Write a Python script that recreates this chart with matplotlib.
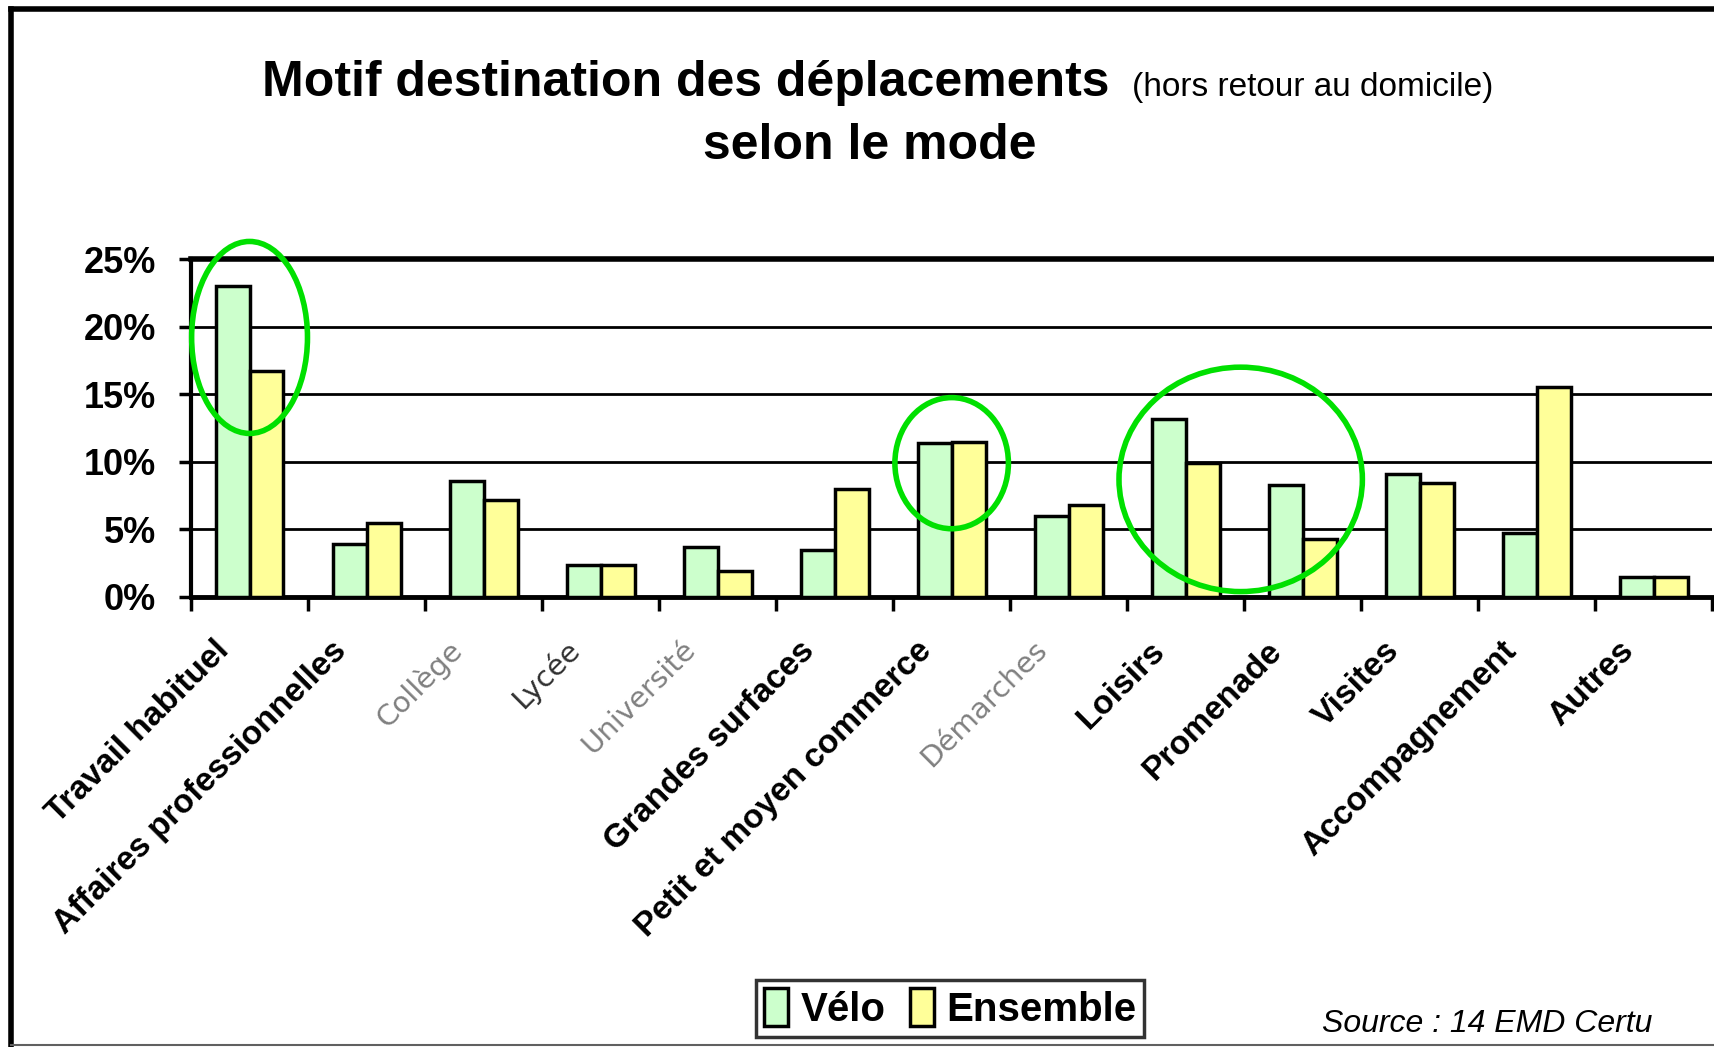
import matplotlib
matplotlib.use('Agg')
import matplotlib.pyplot as plt
from matplotlib.patches import Ellipse, Patch
from matplotlib.lines import Line2D
from matplotlib.transforms import offset_copy
import numpy as np

# donnees (en %)
categories = ['Travail habituel', 'Affaires professionnelles', 'Collège', 'Lycée',
              'Université', 'Grandes surfaces', 'Petit et moyen commerce', 'Démarches',
              'Loisirs', 'Promenade', 'Visites', 'Accompagnement', 'Autres']
velo = [23.0, 3.9, 8.6, 2.4, 3.7, 3.5, 11.4, 6.0, 13.2, 8.3, 9.1, 4.7, 1.5]
ensemble = [16.7, 5.5, 7.2, 2.4, 1.9, 8.0, 11.5, 6.8, 9.9, 4.3, 8.4, 15.5, 1.5]
yticks = [0, 5, 10, 15, 20, 25]
ytick_labels = ['0%', '5%', '10%', '15%', '20%', '25%']
grey_labels = ['Collège', 'Université', 'Démarches']
thin_labels = ['Lycée']

FONT = ['Liberation Sans', 'DejaVu Sans']

fig = plt.figure(figsize=(17.15, 10.47), dpi=100)
ax = fig.add_axes([0.1114, 0.4298, 0.887, 0.3228])

x = np.arange(len(categories))
w = 0.29
ax.bar(x - w / 2, velo, w, color='#CCFFCC', edgecolor='black', linewidth=2.5, zorder=3)
ax.bar(x + w / 2, ensemble, w, color='#FFFF99', edgecolor='black', linewidth=2.5, zorder=3)

ax.set_xlim(-0.5, len(categories) - 0.5)
ax.set_ylim(0, 25)
ax.set_yticks(yticks)
ax.set_yticklabels(ytick_labels, family=FONT, fontweight='bold', fontsize=26)
ax.yaxis.grid(True, color='black', linewidth=2)
ax.set_axisbelow(True)
ax.tick_params(axis='y', direction='out', length=9, width=2.5, pad=16)
ax.set_xticks(np.arange(len(categories) + 1) - 0.5)
ax.set_xticklabels([])
ax.tick_params(axis='x', direction='out', length=10, width=2.5)
ax.spines['right'].set_visible(False)
ax.spines['left'].set_linewidth(3)
ax.spines['bottom'].set_linewidth(3.5)
ax.spines['top'].set_linewidth(4)

# etiquettes inclinees
tr = offset_copy(ax.transData, fig=fig, x=-36, y=-38, units='dots')
for i, lab in enumerate(categories):
    if lab in grey_labels:
        ax.text(i, 0, lab, transform=tr, rotation=45, ha='right', va='top',
                rotation_mode='anchor', family='DejaVu Sans', fontsize=21, color='#808080')
    elif lab in thin_labels:
        ax.text(i, 0, lab, transform=tr, rotation=45, ha='right', va='top',
                rotation_mode='anchor', family='DejaVu Sans', fontsize=21, color='#303030')
    else:
        ax.text(i, 0, lab, transform=tr, rotation=45, ha='right', va='top',
                rotation_mode='anchor', family=FONT, fontweight='bold', fontsize=24)

# cercles verts
for cx, cy, ew, eh in [(0, 19.2, 0.99, 14.2), (6, 9.9, 0.97, 9.7), (8.47, 8.7, 2.08, 16.6)]:
    ax.add_patch(Ellipse((cx, cy), ew, eh, fill=False, edgecolor='#00E000',
                         linewidth=4, zorder=5, clip_on=False))

# titre
fig.text(0.647, 0.908, 'Motif destination des déplacements', ha='right', va='baseline',
         family=FONT, fontweight='bold', fontsize=36)
fig.text(0.660, 0.908, '(hors retour au domicile)', ha='left', va='baseline',
         family=FONT, fontsize=24)
fig.text(0.507, 0.848, 'selon le mode', ha='center', va='baseline',
         family=FONT, fontweight='bold', fontsize=36)

handles = [Patch(facecolor='#CCFFCC', edgecolor='black', linewidth=2.5, label='Vélo'),
           Patch(facecolor='#FFFF99', edgecolor='black', linewidth=2.5, label='Ensemble')]
leg = fig.legend(handles=handles, loc='center', bbox_to_anchor=(0.554, 0.037), ncol=2,
                 frameon=True, fancybox=False, handlelength=0.6, handleheight=1.1,
                 columnspacing=0.6, handletextpad=0.3, borderpad=0.2, borderaxespad=0,
                 prop={'family': FONT, 'weight': 'bold', 'size': 29})
leg.get_frame().set_edgecolor('black')
leg.get_frame().set_linewidth(2.5)

fig.text(0.771, 0.014, 'Source : 14 EMD Certu', ha='left', va='baseline',
         family=FONT, style='italic', fontsize=23)

# cadre
fig.add_artist(Line2D([0.0064, 0.0064], [0.0, 0.9914], color='black', linewidth=4))
fig.add_artist(Line2D([0.0064, 1.0], [0.9914, 0.9914], color='black', linewidth=4))
fig.add_artist(Line2D([0.0064, 1.0], [0.002, 0.002], color='#606060', linewidth=1.5))

fig.savefig('out.png', dpi=100, facecolor='white')
